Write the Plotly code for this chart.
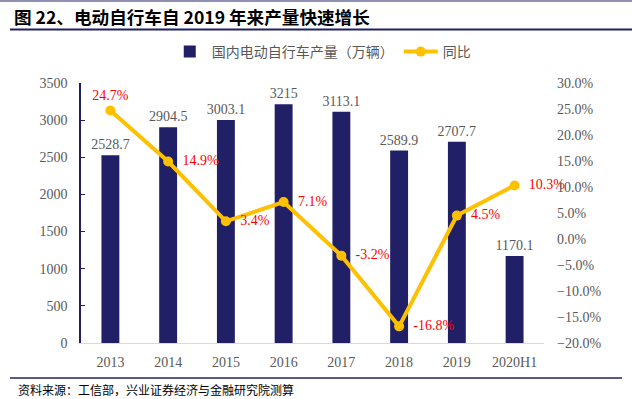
import plotly.graph_objects as go

categories = ["2013", "2014", "2015", "2016", "2017", "2018", "2019", "2020H1"]
production = [2528.7, 2904.5, 3003.1, 3215, 3113.1, 2589.9, 2707.7, 1170.1]
yoy_pct = [24.7, 14.9, 3.4, 7.1, -3.2, -16.8, 4.5, 10.3]

title_text = "图 22、电动自行车自 2019 年来产量快速增长"
source_text = "资料来源：工信部，兴业证券经济与金融研究院测算"
bar_name = "国内电动自行车产量（万辆）"
line_name = "同比"

NAVY = "rgb(33,32,103)"
ORANGE = "#FFC000"
GRAY = "#595959"
SERIF = "Liberation Serif, Times New Roman, serif"
CJK = "Noto Sans CJK SC, sans-serif"

W, H = 632, 399
L, R, T, B = 81, 544, 83, 343


def px(x):
    return (x - L) / (R - L)


def py(y):
    return (B - y) / (B - T)


fig = go.Figure()
fig.add_trace(go.Bar(
    x=categories, y=production, name=bar_name,
    marker=dict(color=NAVY, line=dict(width=0)),
    text=[f"{v:g}" for v in production], textposition="outside",
    constraintext="none",
    textfont=dict(family=SERIF, size=14, color=GRAY),
    cliponaxis=False,
))
labels = [f"{v:.1f}%" for v in yoy_pct]
positions = ["top center"] + ["middle right"] * (len(yoy_pct) - 1)
labels = [t if p == "top center" else "\u00a0\u00a0" + t for t, p in zip(labels, positions)]
fig.add_trace(go.Scatter(
    x=categories, y=[v / 100 for v in yoy_pct], name=line_name, yaxis="y2",
    mode="lines+markers+text",
    line=dict(color=ORANGE, width=4),
    marker=dict(color=ORANGE, size=10),
    text=labels,
    textposition=positions,
    textfont=dict(family=SERIF, size=14, color="#FF0000"),
    cliponaxis=False,
))

fig.update_layout(
    width=W, height=H,
    margin=dict(l=L, r=W - R, t=T, b=H - B, autoexpand=False),
    paper_bgcolor="white", plot_bgcolor="white",
    bargap=0.69,
    showlegend=True,
    legend=dict(orientation="h", x=0.52, xanchor="center", y=py(52), yanchor="middle",
                font=dict(family=CJK, size=14, color=GRAY), itemwidth=34,
                bgcolor="rgba(0,0,0,0)"),
    xaxis=dict(showline=True, linecolor="#D9D9D9", linewidth=1, ticks="",
               tickfont=dict(family=SERIF, size=14, color=GRAY), showgrid=False,
               ticklabelstandoff=6),
    yaxis=dict(range=[0, 3500], dtick=500, showgrid=False, zeroline=False,
               showline=True, linecolor=NAVY, linewidth=1.5,
               ticks="inside", ticklen=4, tickcolor=NAVY,
               tickfont=dict(family=SERIF, size=14, color=GRAY),
               ticklabelstandoff=9),
    yaxis2=dict(range=[-0.2, 0.3], dtick=0.05, tickformat=".1%", overlaying="y",
                side="right", showgrid=False, zeroline=False, showline=False,
                tickfont=dict(family=SERIF, size=14, color=GRAY),
                ticklabelstandoff=12),
)

# Title, rules and source note
fig.add_annotation(text=f"<b>{title_text}</b>", xref="paper", yref="paper",
                   x=px(12), y=py(16), xanchor="left", yanchor="middle",
                   showarrow=False, font=dict(family=CJK, size=17.6, color="black"))
fig.add_annotation(text=source_text, xref="paper", yref="paper",
                   x=px(16), y=py(389), xanchor="left", yanchor="middle",
                   showarrow=False, font=dict(family=CJK, size=12, color="black"))
fig.add_shape(type="line", xref="paper", yref="paper", x0=px(0), x1=px(632),
              y0=py(1), y1=py(1), line=dict(color=NAVY, width=1))
fig.add_shape(type="line", xref="paper", yref="paper", x0=px(10), x1=px(632),
              y0=py(29.5), y1=py(29.5), line=dict(color=NAVY, width=2))
fig.add_shape(type="line", xref="paper", yref="paper", x0=px(10), x1=px(622),
              y0=py(378), y1=py(378), line=dict(color=NAVY, width=1.5))

fig.write_html("out.html", config={"displayModeBar": False},
               post_script="document.body.style.margin='0';")
